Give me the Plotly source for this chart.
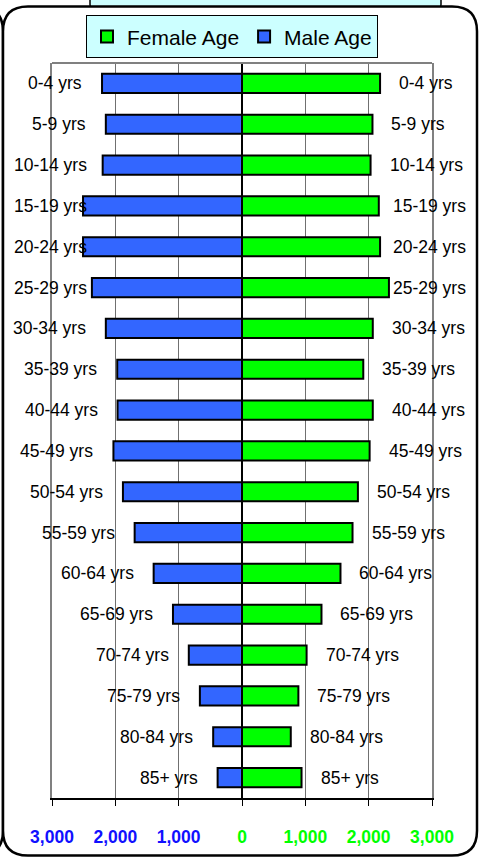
import plotly.graph_objects as go

# ---------------- data ----------------
age_groups = ["0-4 yrs", "5-9 yrs", "10-14 yrs", "15-19 yrs", "20-24 yrs", "25-29 yrs",
              "30-34 yrs", "35-39 yrs", "40-44 yrs", "45-49 yrs", "50-54 yrs", "55-59 yrs",
              "60-64 yrs", "65-69 yrs", "70-74 yrs", "75-79 yrs", "80-84 yrs", "85+ yrs"]
male_age = [2210, 2150, 2200, 2510, 2510, 2370, 2150, 1970, 1965, 2030, 1880, 1695,
            1395, 1090, 840, 665, 455, 385]
female_age = [2180, 2060, 2030, 2160, 2180, 2320, 2065, 1915, 2065, 2015, 1830, 1745,
              1555, 1255, 1020, 890, 770, 940]
tick_values = [-3000, -2000, -1000, 0, 1000, 2000, 3000]
tick_labels = ["3,000", "2,000", "1,000", "0", "1,000", "2,000", "3,000"]

# ---------------- layout geometry ----------------
W, H = 483, 859
L, R, T, B = 52, 51, 63, 55
PW = W - L - R
PH = H - T - B
XMIN, XMAX = -3000, 3000

FONT = "Arial, Liberation Sans, sans-serif"
LABEL_SIZE = 17.5

def px_x(v):
    return L + (v - XMIN) / (XMAX - XMIN) * PW

def paper_x(px):
    return (px - L) / PW

def paper_y(py):
    return (H - B - py) / PH

# Arial advance widths (em) for label width estimation
CW = {c: 0.556 for c in "0123456789"}
CW.update({"-": 0.333, " ": 0.278, "y": 0.5, "r": 0.333, "s": 0.5, "+": 0.584})

def text_w(s, size=LABEL_SIZE):
    return sum(CW.get(c, 0.55) for c in s) * size

def rounded_path(x0, y0, x1, y1, r):
    pts = [
        ("M", x0 + r, y0), ("L", x1 - r, y0), ("Q", x1, y0, x1, y0 + r),
        ("L", x1, y1 - r), ("Q", x1, y1, x1 - r, y1), ("L", x0 + r, y1),
        ("Q", x0, y1, x0, y1 - r), ("L", x0, y0 + r), ("Q", x0, y0, x0 + r, y0),
    ]
    out = []
    for p in pts:
        cmd = p[0]
        coords = p[1:]
        s = []
        for i in range(0, len(coords), 2):
            s.append(f"{paper_x(coords[i]):.5f},{paper_y(coords[i + 1]):.5f}")
        out.append(cmd + " " + " ".join(s))
    return " ".join(out) + " Z"

# ---------------- figure ----------------
fig = go.Figure()
fig.add_trace(go.Bar(
    y=age_groups, x=female_age, orientation="h", name="Female Age",
    marker=dict(color="#00FF00", line=dict(color="black", width=2)),
    hoverinfo="skip",
))
fig.add_trace(go.Bar(
    y=age_groups, x=[-v for v in male_age], orientation="h", name="Male Age",
    marker=dict(color="#3366FF", line=dict(color="black", width=2)),
    hoverinfo="skip",
))

annotations = []
for cat, m, f in zip(age_groups, male_age, female_age):
    w = text_w(cat)
    # left label (male side)
    right_edge = px_x(-m) - 18
    if right_edge - w < 12:
        annotations.append(dict(x=paper_x(12), xref="paper", y=cat, yref="y", text=cat,
                                showarrow=False, xanchor="left", yanchor="middle",
                                font=dict(family=FONT, size=LABEL_SIZE, color="black")))
    else:
        annotations.append(dict(x=-m, xref="x", y=cat, yref="y", text=cat, xshift=-18,
                                showarrow=False, xanchor="right", yanchor="middle",
                                font=dict(family=FONT, size=LABEL_SIZE, color="black")))
    # right label (female side)
    left_edge = px_x(f) + 17
    if left_edge + w > 468:
        annotations.append(dict(x=paper_x(468), xref="paper", y=cat, yref="y", text=cat,
                                showarrow=False, xanchor="right", yanchor="middle",
                                font=dict(family=FONT, size=LABEL_SIZE, color="black")))
    else:
        annotations.append(dict(x=f, xref="x", y=cat, yref="y", text=cat, xshift=17,
                                showarrow=False, xanchor="left", yanchor="middle",
                                font=dict(family=FONT, size=LABEL_SIZE, color="black")))

tick_text = []
for v, t in zip(tick_values, tick_labels):
    col = "#1010FF" if v < 0 else "#00FF00"
    tick_text.append(f"<span style='color:{col}'>{t}</span>")

shapes = [
    # title box at top (cut off)
    dict(type="path", xref="paper", yref="paper", layer="below",
         path=rounded_path(90, -40, 441, 10, 6),
         fillcolor="#CCFFFF", line=dict(color="black", width=1.5)),
    # neighbouring chart frame at left
    dict(type="path", xref="paper", yref="paper", layer="below",
         path=rounded_path(-300, 6, 3, 862, 25),
         fillcolor="white", line=dict(color="black", width=2.5)),
    # main chart frame
    dict(type="path", xref="paper", yref="paper", layer="below",
         path=rounded_path(3, 6, 477, 862, 25),
         fillcolor="white", line=dict(color="black", width=2.5)),
    # top border of plot area
    dict(type="line", xref="paper", yref="paper", x0=0, x1=1, y0=1, y1=1,
         line=dict(color="#808080", width=2)),
]

fig.update_layout(
    width=W, height=H,
    margin=dict(l=L, r=R, t=T, b=B),
    paper_bgcolor="white",
    plot_bgcolor="#C0C0C0",
    barmode="relative",
    bargap=0.53,
    font=dict(family=FONT, color="black"),
    showlegend=True,
    legend=dict(
        orientation="h", x=paper_x(232), xanchor="center",
        y=paper_y(15), yanchor="top",
        bgcolor="#CCFFFF", bordercolor="black", borderwidth=1,
        font=dict(family=FONT, size=21, color="black"),
        traceorder="normal", itemwidth=30,
    ),
    xaxis=dict(
        range=[XMIN, XMAX], tickmode="array", tickvals=tick_values, ticktext=tick_text,
        tickfont=dict(family=FONT, size=17.5, weight="bold"),
        ticks="outside", ticklen=6, tickcolor="black", tickwidth=1,
        ticklabelstandoff=16,
        showline=True, linecolor="black", linewidth=1.5,
        showgrid=True, gridcolor="#707070", gridwidth=1,
        zeroline=True, zerolinecolor="black", zerolinewidth=1.5,
        fixedrange=True,
    ),
    yaxis=dict(
        type="category", categoryorder="array", categoryarray=age_groups,
        autorange="reversed", showticklabels=False, ticks="",
        showgrid=False, zeroline=False,
        showline=True, mirror=True, linecolor="#808080", linewidth=2,
        fixedrange=True,
    ),
    annotations=annotations,
    shapes=shapes,
)

fig.write_html(
    "out.html",
    config={"displayModeBar": False},
    post_script="document.body.style.margin='0';document.body.style.overflow='hidden';",
)
